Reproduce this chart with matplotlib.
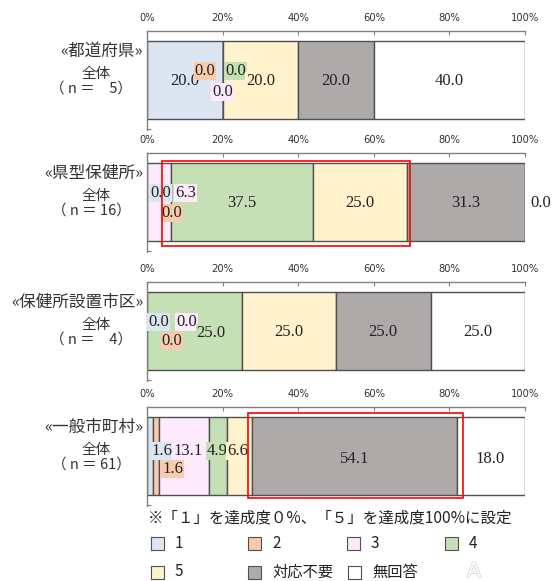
import matplotlib
matplotlib.use("Agg")
import matplotlib.pyplot as plt
import matplotlib.patheffects as pe
from matplotlib.patches import Rectangle
import numpy as np

plt.rcParams['font.family'] = ['Noto Sans CJK JP', 'DejaVu Sans']

# ---------------- data ----------------
categories = ["1", "2", "3", "4", "5", "対応不要", "無回答"]
group_titles = ["«都道府県»", "«県型保健所»", "«保健所設置市区»", "«一般市町村»"]
group_n = ["（ n ＝　5）", "（ n ＝ 16）", "（ n ＝　4）", "（ n ＝ 61）"]
values_pref = [20.0, 0.0, 0.0, 0.0, 20.0, 20.0, 40.0]
values_hc = [0.0, 0.0, 6.3, 37.5, 25.0, 31.3, 0.0]
values_city = [0.0, 0.0, 0.0, 25.0, 25.0, 25.0, 25.0]
values_muni = [1.6, 1.6, 13.1, 4.9, 6.6, 54.1, 18.0]
all_values = [values_pref, values_hc, values_city, values_muni]
tick_values = [0, 20, 40, 60, 80, 100]
tick_labels = ["0%", "20%", "40%", "60%", "80%", "100%"]
note_text = "※「１」を達成度０%、「５」を達成度100%に設定"

# ---------------- styles ----------------
colors = ["#dce6f2", "#f8cbad", "#fdeafd", "#c5e0b4", "#fff2cc", "#aeaaaa", "#ffffff"]
edge = "#505050"
W, H = 552, 581
DPI = 100

# label placement: (anchor, ha, dx_px, dy_px) ; anchor: 'c' center, 'l' left edge, 'r' right edge
label_style = [
    [('c', 'center', 0, 1), ('l', 'right', -7, -9), ('l', 'center', 0, 12), ('l', 'left', 3, -9),
     ('c', 'center', 0, 1), ('c', 'center', 0, 1), ('c', 'center', 0, 1)],
    [('l', 'left', 3, -9), ('l', 'center', 25, 11), ('r', 'left', 4, -9), ('c', 'center', 0, 1),
     ('c', 'center', 0, 1), ('c', 'center', 0, 1), ('r', 'left', 5, 1)],
    [('l', 'left', 1, -9), ('l', 'center', 25, 10), ('l', 'left', 29, -9), ('c', 'center', 17, 2),
     ('c', 'center', 0, 1), ('c', 'center', 0, 1), ('c', 'center', 0, 1)],
    [('l', 'left', 4, -5), ('l', 'left', 9, 13), ('c', 'center', 4, -5), ('c', 'center', -1, -5),
     ('c', 'center', -2, -5), ('c', 'center', 0, 3), ('c', 'center', 0, 3)],
]

panel_tops = [31, 153, 282, 407]   # px from top: frame line
x0_px, x1_px = 147, 525

fig = plt.figure(figsize=(W / DPI, H / DPI), dpi=DPI)

num_font = dict(family=['Liberation Serif', 'DejaVu Serif'], fontsize=12, color='#222222')

for i, vals in enumerate(all_values):
    T = panel_tops[i]
    axh = 99
    ax = fig.add_axes([x0_px / W, 1 - (T + axh) / H, (x1_px - x0_px) / W, axh / H])
    ax.set_xlim(0, 100)
    ax.set_ylim(axh, 0)  # pixel-like units, top at 0
    ax.patch.set_alpha(0)
    for s in ['right', 'bottom']:
        ax.spines[s].set_visible(False)
    ax.spines['top'].set_color('#808080')
    ax.spines['left'].set_color('#808080')
    ax.spines['top'].set_linewidth(1.0)
    ax.spines['left'].set_linewidth(1.0)
    ax.xaxis.tick_top()
    ax.set_xticks(tick_values)
    ax.set_xticklabels(tick_labels, fontsize=7.2, color='#333333',
                       family=['DejaVu Sans'])
    ax.tick_params(axis='x', direction='in', length=3, color='#808080', pad=6)
    ax.set_yticks([axh - 1])
    ax.set_yticklabels([])
    ax.tick_params(axis='y', direction='in', length=3, color='#808080')

    lefts = np.concatenate([[0], np.cumsum(vals)[:-1]])
    bar_c = 49
    for k in range(len(vals)):
        ax.barh([bar_c], [vals[k]], left=[lefts[k]], height=78, color=colors[k],
                edgecolor=edge, linewidth=1.0)

    # value labels
    for k, v in enumerate(vals):
        anchor, ha, dx, dy = label_style[i][k]
        if anchor == 'c':
            xv = lefts[k] + v / 2
        elif anchor == 'l':
            xv = lefts[k]
        else:
            xv = lefts[k] + v
        ax.annotate(f"{v:.1f}", (xv, bar_c), xytext=(dx * 0.72, -dy * 0.72),
                    textcoords='offset points', ha=ha, va='center', **num_font,
                    bbox=dict(boxstyle='square,pad=0.05', fc=colors[k], ec='none'),
                    annotation_clip=False)

    # left labels
    bt = T + 10
    fig.text(143 / W, 1 - (bt + 10) / H, group_titles[i], ha='right', va='center',
             fontsize=12, color='#333333')
    fig.text(96 / W, 1 - (bt + 33) / H, "全体", ha='center', va='center',
             fontsize=10.5, color='#333333')
    fig.text(91 / W, 1 - (bt + 48) / H, group_n[i], ha='center', va='center',
             fontsize=10.5, color='#333333')

# red highlight frames (in panel 2 and 4)
def red_box(top_px, bottom_px, left_px, right_px):
    fig.patches.append(Rectangle((left_px / W, 1 - bottom_px / H), (right_px - left_px) / W,
                                 (bottom_px - top_px) / H, transform=fig.transFigure,
                                 fill=False, ec='#ff0000', lw=1.2, zorder=10))

red_box(161, 246, 162, 410)
red_box(413, 498, 248, 463)

# note
fig.text(148 / W, 1 - 518 / H, note_text, ha='left', va='center', fontsize=11.2, color='#222222')

# legend
leg_pos = [(151, 543), (248, 543), (347, 543), (445, 543), (151, 572), (248, 572), (348, 572)]
for k, (px, py) in enumerate(leg_pos):
    fig.patches.append(Rectangle((px / W, 1 - (py + 6.5) / H), 13 / W, 13 / H,
                                 transform=fig.transFigure, fc=colors[k], ec=edge, lw=0.8))
    fig.text((px + 24) / W, 1 - py / H, categories[k], ha='left', va='center',
             fontsize=11, color='#222222')

# faint artifact glyph
t = fig.text(474 / W, 1 - 571 / H, "A", ha='center', va='center', fontsize=15, color='white',
             family=['DejaVu Sans'])
t.set_path_effects([pe.Stroke(linewidth=0.8, foreground='#c8c8c8'), pe.Normal()])

fig.savefig("out.png", dpi=DPI)
